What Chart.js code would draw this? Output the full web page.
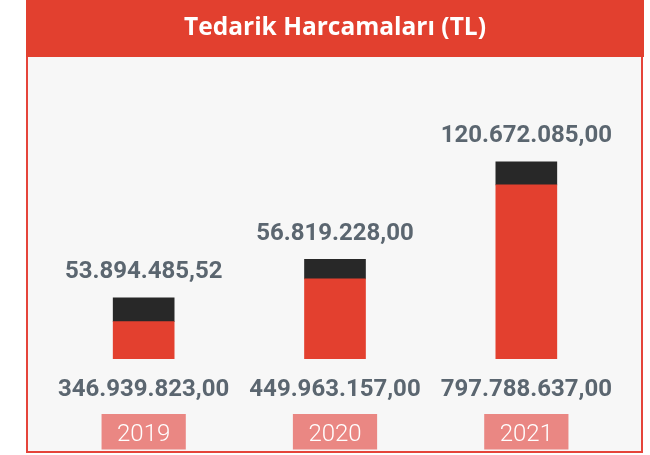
<!DOCTYPE html>
<html>
<head>
<meta charset="utf-8">
<title>Tedarik Harcamaları (TL)</title>
<script src="https://cdn.jsdelivr.net/npm/chart.js@4.4.0/dist/chart.umd.min.js"></script>
<style>
  html, body { margin: 0; padding: 0; background: #ffffff; }
  canvas { display: block; }
</style>
</head>
<body>
<canvas id="myChart" width="650" height="455"></canvas>
<script>
// data
const years = ['2019', '2020', '2021'];
const redValues = [346939823.00, 449963157.00, 797788637.00];
const darkValues = [53894485.52, 56819228.00, 120672085.00];

const RED = '#e3402f';
const DARK = '#282828';
const PINK = '#ea8783';
const TEXT = '#5b6670';

// 346939823 -> "346.939.823,00"
function fmt(v) {
    const parts = v.toFixed(2).split('.');
    return parts[0].replace(/\B(?=(\d{3})+(?!\d))/g, '.') + ',' + parts[1];
}

// frame: red header strip + grey panel with red border
const frame = {
    id: 'frame',
    beforeDraw(chart) {
        const ctx = chart.ctx;
        ctx.save();
        ctx.fillStyle = '#ffffff';
        ctx.fillRect(0, 0, chart.width, chart.height);
        ctx.fillStyle = '#f7f7f7';
        ctx.fillRect(27, 56, 615, 396);
        ctx.strokeStyle = '#e5443a';
        ctx.lineWidth = 2;
        ctx.strokeRect(27, 50, 615, 402);
        ctx.fillStyle = '#e2402f';
        ctx.fillRect(26, 0, 618, 57);
        ctx.restore();
    }
};

// numbers above and below the bars
const valueLabels = {
    id: 'valueLabels',
    afterDatasetsDraw(chart) {
        const ctx = chart.ctx;
        const redMeta = chart.getDatasetMeta(0);
        const darkMeta = chart.getDatasetMeta(1);
        ctx.save();
        ctx.font = '700 24px Roboto';
        ctx.fillStyle = TEXT;
        ctx.textAlign = 'center';
        ctx.textBaseline = 'alphabetic';
        darkMeta.data.forEach((bar, i) => {
            ctx.fillText(fmt(darkValues[i]), bar.x, bar.y - 19.5);
        });
        redMeta.data.forEach((bar, i) => {
            ctx.fillText(fmt(redValues[i]), bar.x, bar.base + 37);
        });
        ctx.restore();
    }
};

const myChartRef = document.getElementById('myChart').getContext('2d');

new Chart(myChartRef, {
    type: 'bar',
    data: {
        labels: years,
        datasets: [
            {
                data: redValues,
                backgroundColor: RED,
                borderWidth: 0,
                barThickness: 61
            },
            {
                data: darkValues,
                backgroundColor: DARK,
                borderWidth: 0,
                barThickness: 61
            }
        ]
    },
    options: {
        responsive: false,
        devicePixelRatio: 1,
        animation: false,
        layout: {
            padding: { left: 48, right: 28, top: 0, bottom: 5.6 }
        },
        plugins: {
            legend: { display: false },
            tooltip: { enabled: false },
            title: {
                display: true,
                text: 'Tedarik Harcamaları (TL)',
                color: '#ffffff',
                font: { family: 'Open Sans', size: 24.5, weight: '700' },
                padding: { top: 13.5, bottom: 47.1 }
            }
        },
        scales: {
            x: {
                stacked: true,
                grid: { display: false, drawTicks: false },
                border: { display: false },
                afterFit(scale) {
                    scale.height = 90.4;
                },
                ticks: {
                    color: '#ffffff',
                    font: { family: 'Roboto', size: 24, weight: '300' },
                    padding: 61.6,
                    showLabelBackdrop: true,
                    backdropColor: PINK,
                    backdropPadding: { top: 6.6, bottom: 25, left: 15.5, right: 15.5 }
                }
            },
            y: {
                type: 'logarithmic',
                stacked: true,
                display: false,
                bounds: 'data',
                min: 2.762e8,
                max: 1.4228e9
            }
        }
    },
    plugins: [frame, valueLabels]
});
</script>
</body>
</html>
